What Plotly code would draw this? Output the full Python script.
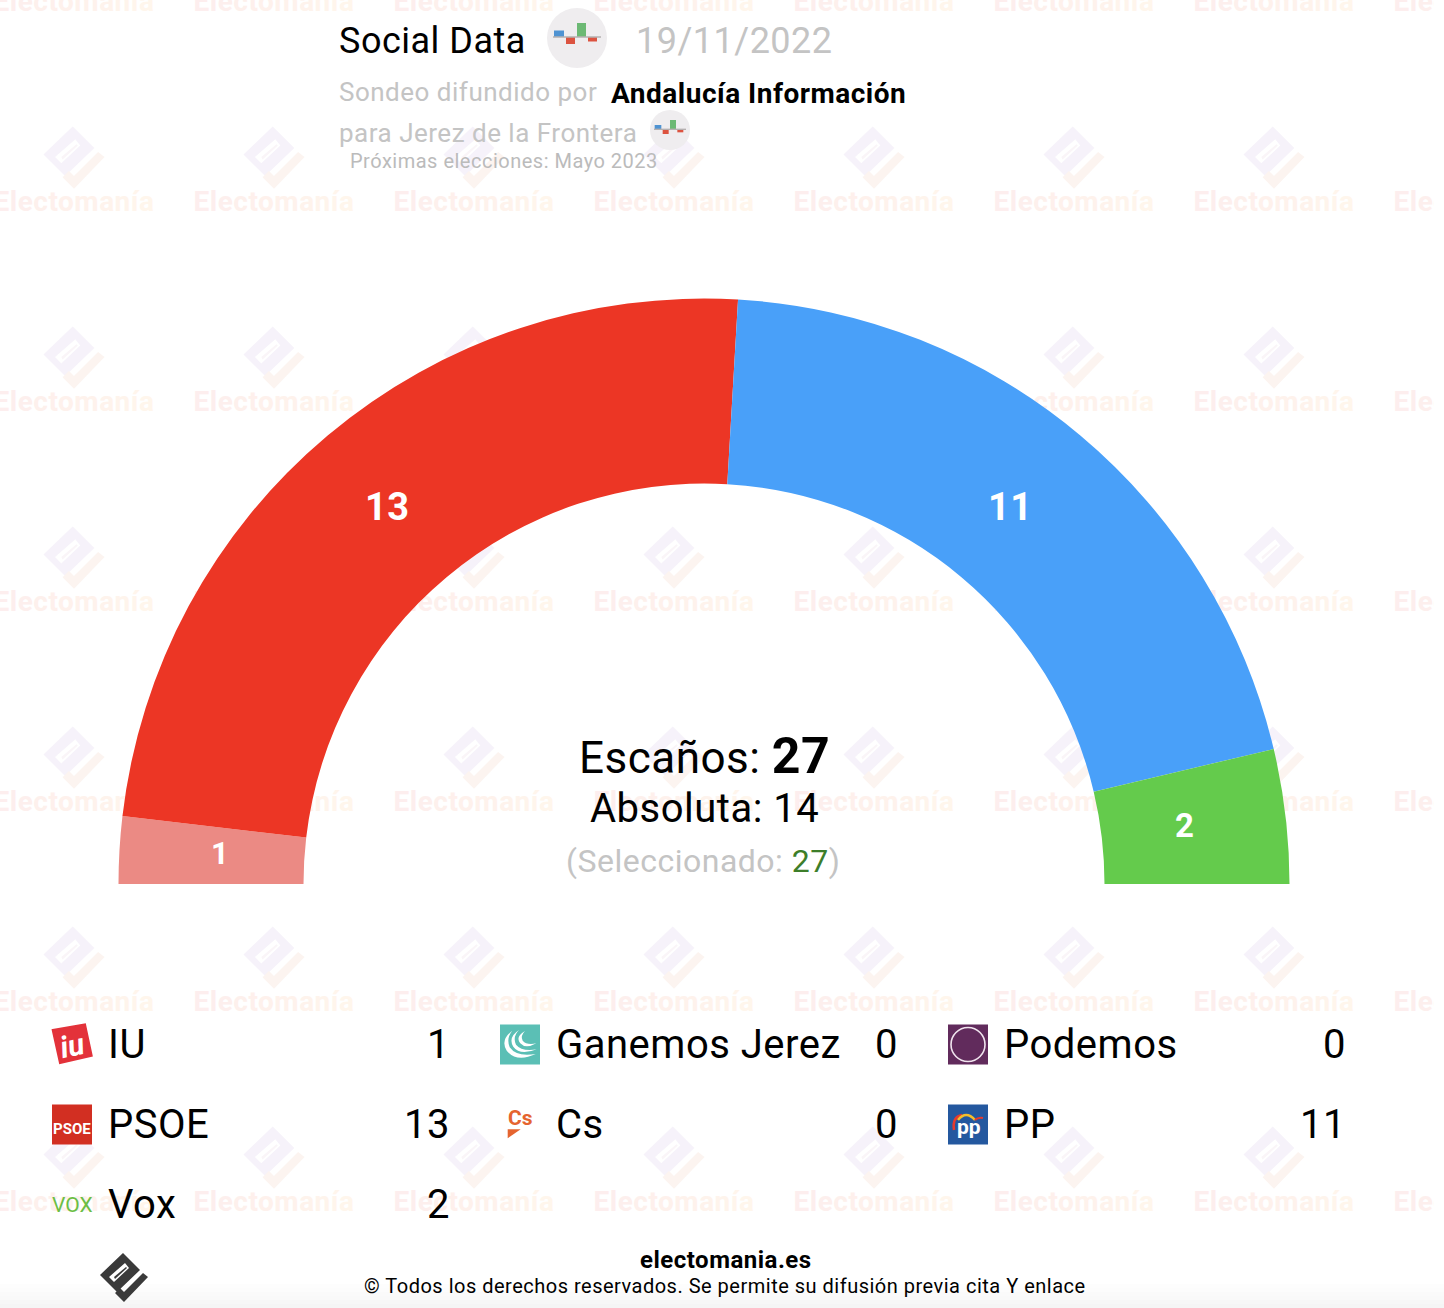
import math
import plotly.graph_objects as go

# datos
parties = ['IU', 'Ganemos Jerez', 'Podemos', 'PSOE', 'Cs', 'PP', 'Vox']
seats = [1, 0, 0, 13, 0, 11, 2]
colors = ['#EB8A84', '#5BBFB5', '#612B5C', '#EC3625', '#E5642F', '#49A0F9', '#64CB4C']

pollster = 'Social Data'
poll_date = '19/11/2022'
media = 'Andalucía Información'
place = 'para Jerez de la Frontera'
next_vote = 'Próximas elecciones: Mayo 2023'
majority = 14

# rejilla de la leyenda
col_x = [52, 500, 948]
row_y = [1044, 1124, 1204]

# marca de agua
tile_x = [74 + 200 * i for i in range(8)]
tile_y = [2 + 200 * j for j in range(7)]
wm_word = 'Electomanía'
wm_colors = ['#FDEEEE', '#FDEEED', '#FDEFED', '#FDF0EC', '#FEF0EC', '#FEF1EC',
             '#FEF2EC', '#FEF3EC', '#FEF4EC', '#FFF5EC', '#FFF6EC']

W, H, FULL_H = 1434, 1308, 1480
CX, CY, R = 704, 884, 585.5
INNER = 400.5

GREY = '#C4C4C4'
FONT = 'Roboto'
SPACING = '<span style="letter-spacing:0.5px">{}</span>'

fig = go.Figure()

# texto de la marca de agua, por debajo del semicirculo
wm_text = ''.join(f'<span style="color:{c};letter-spacing:0.5px">{l}</span>' for l, c in zip(wm_word, wm_colors))
fig.add_trace(go.Scatter(
    x=[x for x in tile_x for y in tile_y],
    y=[y + 2 for x in tile_x for y in tile_y],
    mode='text', text=[wm_text] * (len(tile_x) * len(tile_y)),
    textfont=dict(family=FONT, size=28, color='#FDEFED', weight='bold'),
    hoverinfo='skip', showlegend=False,
))

# semicirculo: la otra mitad es una porcion invisible
total = sum(seats)
fig.add_trace(go.Pie(
    values=seats + [total],
    labels=parties + ['oculto'],
    textinfo='none',
    marker=dict(colors=colors + ['rgba(0,0,0,0)'], line=dict(width=0)),
    hole=INNER / R, sort=False, direction='clockwise', rotation=270,
    domain=dict(x=[(CX - R) / W, (CX + R) / W],
                y=[(FULL_H - CY - R) / FULL_H, (FULL_H - CY + R) / FULL_H]),
    hoverinfo='skip', showlegend=False,
))

shapes = []


def poly(pts, fill, layer='above', line=None):
    path = 'M' + ' L'.join(f'{x:.1f},{y:.1f}' for x, y in pts) + ' Z'
    shapes.append(dict(type='path', path=path, fillcolor=fill, layer=layer,
                       line=dict(width=0) if line is None else line, xref='x', yref='y'))


def curve(path, fill=None, color=None, width=0, layer='above'):
    shapes.append(dict(type='path', path=path, fillcolor=fill or 'rgba(0,0,0,0)', layer=layer,
                       line=dict(width=width, color=color or 'rgba(0,0,0,0)'), xref='x', yref='y'))


def box(x0, y0, x1, y1, fill, layer='above'):
    shapes.append(dict(type='rect', x0=x0, y0=y0, x1=x1, y1=y1, fillcolor=fill,
                       line=dict(width=0), layer=layer, xref='x', yref='y'))


def site_logo(cx, cy, k, body, check, stripe, layer):
    # rombo con ranura mas el trazo en L
    outer = [(-1, -24), (16, -7), (-7, 15), (-24, -2)]
    slot = [(-15, 0), (-10, 5), (5, -9), (1, -14)]
    pts = lambda l: 'M' + ' L'.join(f'{cx + k * x:.1f},{cy + k * y:.1f}' for x, y in l) + ' Z '
    curve(pts(outer) + pts(slot), fill=body, layer=layer)
    poly([(cx + k * x, cy + k * y) for x, y in [(-9, 16), (0, 25), (24, 0), (19, -4), (0, 15), (-4, 11)]],
         check, layer)
    poly([(cx + k * x, cy + k * y) for x, y in [(-10, 0), (-9, 2), (3, -9), (2, -10)]], stripe, layer)


def chart_icon(cx, cy, r):
    k = r / 30
    shapes.append(dict(type='circle', x0=cx - r, x1=cx + r, y0=cy - r, y1=cy + r,
                       fillcolor='#EFEDEF', line=dict(width=0), layer='above', xref='x', yref='y'))
    base = cy - 1 * k
    box(cx - 23 * k, base - 6.5 * k, cx - 13 * k, base, '#4F93D2')
    box(cx - 11 * k, base, cx - 2 * k, base + 7 * k, '#DC5340')
    box(cx, base - 14 * k, cx + 9 * k, base, '#6CB974')
    box(cx + 11 * k, base, cx + 20 * k, base + 4.5 * k, '#DC5340')
    box(cx - 24 * k, base - 0.7, cx + 24 * k, base + 0.7, '#B5B0B0')


for x in tile_x[:7]:
    for y in range(157, 1308, 200):
        site_logo(x, y, 1.27, '#F6F2FA', '#FCF4F0', '#FAF5F8', 'below')

# sombra inferior
for i, y in enumerate(range(1284, 1308, 4)):
    shapes.append(dict(type='rect', xref='paper', yref='y', x0=0, x1=1.01, y0=y, y1=y + 4,
                       fillcolor=f'rgba(120,120,120,{0.012 * (i + 1):.3f})',
                       line=dict(width=0), layer='below'))

chart_icon(577, 38, 30)
chart_icon(670, 130, 20)
site_logo(124, 1277, 1, '#3A3A3A', '#3A3A3A', '#3A3A3A', 'above')

# logos de partidos
poly([(52.7, 1030), (85, 1024.3), (91.7, 1055.7), (60, 1063)], '#E3323A',
     line=dict(color='#E3323A', width=2))
box(52, 1104.5, 92, 1144.5, '#D22F22')
box(500, 1024.5, 540, 1064.5, '#5BBFB5')
gz = lambda x, y: f'{495 + x / 3:.1f},{1020 + y / 3:.1f}'
for a in [[(52, 32), (15, 60), (35, 92), (65, 128), (122, 102), (65, 112), (44, 82), (33, 55)],
          [(72, 30), (38, 52), (55, 80), (75, 108), (125, 88), (80, 95), (63, 74), (52, 50)],
          [(90, 33), (60, 50), (76, 70), (92, 88), (124, 70), (95, 76), (83, 62), (75, 48)]]:
    p = f'M{gz(*a[0])} Q{gz(*a[1])} {gz(*a[2])} Q{gz(*a[3])} {gz(*a[4])} Q{gz(*a[5])} {gz(*a[6])} Q{gz(*a[7])} {gz(*a[0])} Z'
    curve(p, fill='white')
box(948, 1024.5, 988, 1064.5, '#612B5C')
shapes.append(dict(type='circle', x0=951, x1=985, y0=1027.5, y1=1061.5, fillcolor='rgba(0,0,0,0)',
                   line=dict(color='#F0E4EE', width=1.6), layer='above', xref='x', yref='y'))
poly([(507.7, 1129.3), (520.7, 1129.3), (507.7, 1138.3)], '#E5642F')
box(948, 1104.5, 988, 1144.5, '#24589F')
curve('M954,1130 Q952,1117 962,1115', color='#E63A2E', width=2.5)
curve('M958,1120 Q966,1110 975,1120', color='#F6BE2A', width=2.5)
curve('M975,1120 Q978,1117 983,1118', color='#E63A2E', width=2)

annotations = []


def add_text(x, y, text, size, color='black', anchor='left', bold=False, angle=0, italic=False, spaced=True):
    annotations.append(dict(
        x=x, y=y, xref='x', yref='y', text=SPACING.format(text) if spaced else text,
        showarrow=False, xanchor=anchor, yanchor='middle', textangle=angle, borderpad=0,
        font=dict(family=FONT, size=size, color=color, weight='bold' if bold else 'normal',
                  style='italic' if italic else 'normal')))


# cifras dentro del arco: angulo medio de cada porcion, con el retoque a ojo del original
ring_r = {'IU': 487, 'PSOE': 492, 'PP': 492, 'Vox': 484}
nudge = {'IU': (2, -2), 'PSOE': (0, 0), 'PP': (-10, 0), 'Vox': (0, -2)}
ring_size = {'IU': 31, 'PSOE': 38, 'PP': 38, 'Vox': 33}
done = 0
for name, s in zip(parties, seats):
    if s:
        ang = math.pi * (done + s / 2) / total
        dx, dy = nudge[name]
        add_text(CX - ring_r[name] * math.cos(ang) + dx, CY - ring_r[name] * math.sin(ang) + dy,
                 str(s), ring_size[name], 'white', anchor='center', bold=True)
    done += s

# cabecera
add_text(338, 41, pollster, 36)
add_text(635, 41, poll_date, 36, GREY)
add_text(338, 92, 'Sondeo difundido por', 26, GREY)
add_text(610, 93, media, 28, bold=True)
add_text(338, 133, place, 26, GREY)
add_text(349, 161, next_vote, 20, '#BBBBBB')

# centro
add_text(704, 756, f'Escaños: <b style="font-size:50px">{total}</b>', 44, anchor='center')
add_text(704, 808, f'Absoluta: {majority}', 40, anchor='center')
add_text(703, 861, f'(Seleccionado: <span style="color:#3D7E2A">{total}</span>)', 32, GREY, anchor='center')

# leyenda
for i, (name, s) in enumerate(zip(parties, seats)):
    col, row = i % 3, i // 3
    add_text(col_x[col] + 55, row_y[row], name, 40)
    add_text(col_x[col] + 399, row_y[row], str(s), 40, anchor='right')

# letras de los logos
add_text(72, 1045, 'iu', 30, 'white', anchor='center', bold=True, angle=-12, italic=True, spaced=False)
add_text(72, 1129, 'PSOE', 15, 'white', anchor='center', bold=True, spaced=False)
add_text(72, 1205, 'VOX', 21, '#6CBE45', anchor='center', spaced=False)
add_text(520, 1118, 'Cs', 21, '#E5642F', anchor='center', bold=True, spaced=False)
add_text(969, 1127, 'pp', 21, 'white', anchor='center', bold=True, spaced=False)

# pie
add_text(726, 1260, 'electomania.es', 24, anchor='center', bold=True)
add_text(725, 1286, '© Todos los derechos reservados. Se permite su difusión previa cita Y enlace', 20, anchor='center')

axis = dict(visible=False, showgrid=False, zeroline=False, fixedrange=True)
fig.update_layout(
    width=1444, height=FULL_H, autosize=False,
    margin=dict(l=0, r=10, t=0, b=0, pad=0),
    paper_bgcolor='white', plot_bgcolor='white',
    xaxis=dict(range=[0, W], **axis),
    yaxis=dict(range=[FULL_H, 0], **axis),
    shapes=shapes, annotations=annotations,
    font=dict(family=FONT), showlegend=False,
)

fig.write_html('out.html', config=dict(displayModeBar=False),
               post_script="document.body.style.margin='0';document.documentElement.style.overflow='hidden';")
